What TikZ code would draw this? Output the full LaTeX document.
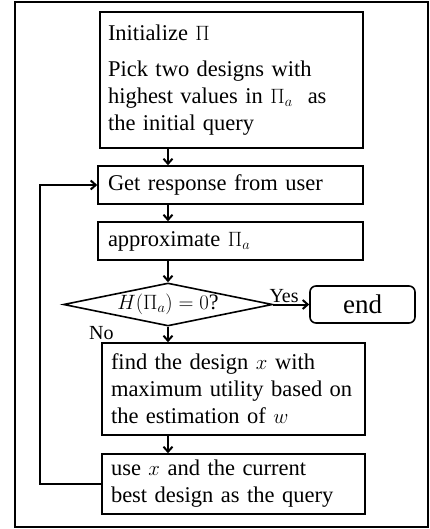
\documentclass[tikz,border=0pt]{standalone}
\usepackage{fontspec}
\setmainfont{Liberation Serif}
\usetikzlibrary{shapes.geometric,arrows.meta}
\begin{document}
\begin{tikzpicture}[x=1pt, y=-1pt, >={Straight Barb[length=5pt,width=9pt]},
    procbox/.style={draw, line width=1.6pt, align=left, inner ysep=0pt, font=\fontsize{22.5}{27}\selectfont},
    flow/.style={->, line width=2pt},
    tag/.style={font=\fontsize{20}{22}\selectfont}]
  \useasboundingbox (0,0) rectangle (430,529);
  % frame
  \draw[line width=1.3pt] (15,2) rectangle (428,527);
  % steps
  \node[procbox, inner xsep=8pt, text width=247pt, minimum height=136pt] (init) at (231.5,80)
    {Initialize $\Pi$\\[9pt]Pick two designs with\\highest values in $\Pi_a$\ \ as\\the initial query};
  \node[procbox, inner xsep=10pt, text width=245pt, minimum height=38pt] (resp) at (230.5,185) {Get response from user};
  \node[procbox, inner xsep=10pt, text width=245pt, minimum height=38pt] (approx) at (230.5,241) {approximate $\Pi_a$};
  \node[draw, diamond, aspect=4.86, minimum width=209pt, minimum height=43pt, inner sep=0pt, line width=1.6pt,
    font=\fontsize{22}{24}\selectfont] (check) at (168,304.5) {$H\bigl(\Pi_a\bigr) = 0$?};
  \node[draw, rounded corners=6pt, line width=1.6pt, minimum width=105pt, minimum height=37pt,
    font=\fontsize{27}{30}\selectfont] (stop) at (362.5,304.5) {end};
  \node[procbox, inner xsep=9pt, text width=245pt, minimum height=92pt] (find) at (233.5,389)
    {find the design $x$ with\\maximum utility based on\\the estimation of $w$};
  \node[procbox, inner xsep=9pt, text width=245pt, minimum height=60pt] (use) at (233.5,484)
    {use $x$ and the current\\best design as the query};
  % arrows
  \draw[flow] (init.south -| check) -- (resp.north -| check);
  \draw[flow] (resp.south -| check) -- (approx.north -| check);
  \draw[flow] (approx.south -| check) -- (check.north);
  \draw[flow] (check.east) -- node[tag, above, pos=0.3, inner sep=1pt] {Yes} (stop.west);
  \draw[flow] (check.south) -- node[tag, left=50pt, pos=0.4] {No} (find.north -| check);
  \draw[flow] (find.south -| check) -- (use.north -| check);
  \draw[flow] (use.west) -- ++(-61,0) |- (resp.west);
\end{tikzpicture}
\end{document}
